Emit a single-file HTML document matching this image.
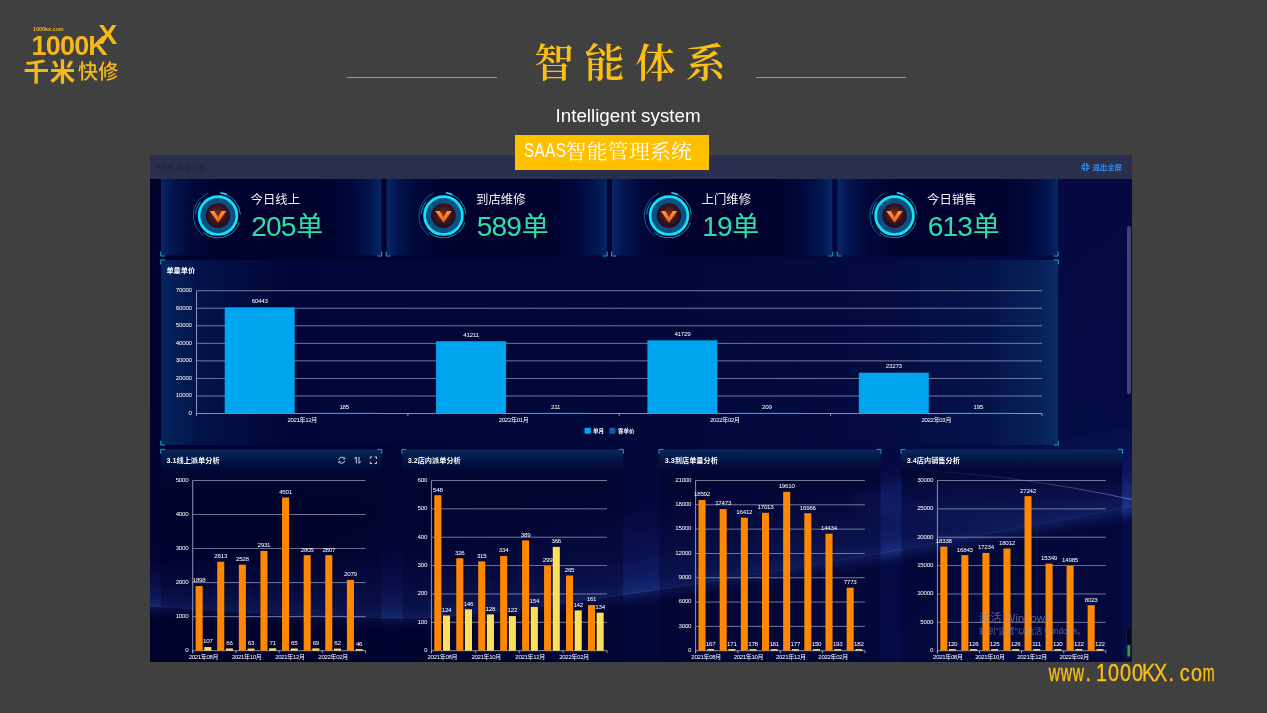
<!DOCTYPE html>
<html lang="zh-CN"><head><meta charset="utf-8"><title>智能体系</title>
<style>
html,body{margin:0;padding:0;}
body{width:1267px;height:713px;background:#404040;position:relative;overflow:hidden;font-family:"Liberation Sans","Noto Sans CJK SC",sans-serif;}
.abs{position:absolute;white-space:nowrap;line-height:1;}
.logo{color:#f5b81c;font-weight:bold;}
.title{left:534px;top:44px;font-family:"Liberation Serif","Noto Serif CJK SC",serif;font-weight:600;font-size:40px;letter-spacing:10.6px;color:#fbbf15;}
.sub{left:555.5px;top:106.5px;font-size:18.8px;color:#fff;}
.line{position:absolute;height:1.4px;background:#d88a3c;top:76.5px;}
.badge{position:absolute;left:515px;top:134.5px;width:194px;height:35px;background:#ffc000;}
.badge span{position:absolute;white-space:nowrap;line-height:1;color:#fff;}
.b1{left:9.2px;top:5.5px;font-size:20px;letter-spacing:0.6px;transform:scaleX(0.76);transform-origin:left;}
.b2{left:50.6px;top:7.1px;font-family:"Liberation Serif","Noto Serif CJK SC",serif;font-weight:400;font-size:20.8px;letter-spacing:0.3px;}
.url{left:1048.3px;top:661.6px;color:#fbbf15;font-size:23px;display:flex;-webkit-text-stroke:0.35px #fbbf15;}
.url i{display:flex;justify-content:center;width:11.86px;font-style:normal;}
.url i b{display:block;font-weight:normal;transform:scaleX(0.86);}
.url i.w b{transform:scaleX(0.68);} .url i.m b{transform:scaleX(0.62);} .url i.d{justify-content:flex-start;} .url i.d b{margin-left:1px}
</style></head><body>
<svg width="1267" height="713" viewBox="0 0 1267 713" style="position:absolute;left:0;top:0" font-family='"Liberation Sans","Noto Sans CJK SC",sans-serif'>
<defs>
<linearGradient id="cardg" x1="0" x2="1" y1="0" y2="0">
 <stop offset="0" stop-color="#062866"/><stop offset="0.05" stop-color="#031550"/><stop offset="0.14" stop-color="#01083a"/><stop offset="0.26" stop-color="#00022d"/>
 <stop offset="0.74" stop-color="#00022d"/><stop offset="0.86" stop-color="#01083a"/><stop offset="0.95" stop-color="#031550"/><stop offset="1" stop-color="#062866"/>
</linearGradient>
<linearGradient id="midg" x1="0" x2="1" y1="0" y2="0">
 <stop offset="0" stop-color="#062560"/><stop offset="0.04" stop-color="#03134a"/><stop offset="0.14" stop-color="#010638"/>
 <stop offset="0.5" stop-color="#020739"/><stop offset="0.8" stop-color="#030b40"/><stop offset="0.92" stop-color="#04134a"/><stop offset="0.98" stop-color="#072259"/><stop offset="1" stop-color="#0a2c68"/>
</linearGradient>
<linearGradient id="botg" x1="0" x2="0" y1="0" y2="1">
 <stop offset="0" stop-color="#08285c"/><stop offset="0.02" stop-color="#062050"/><stop offset="0.05" stop-color="#041646" stop-opacity="0.98"/><stop offset="0.085" stop-color="#020a39" stop-opacity="0.95"/><stop offset="0.12" stop-color="#01052f" stop-opacity="0.8"/><stop offset="0.3" stop-color="#01032b" stop-opacity="0.42"/><stop offset="1" stop-color="#01032b" stop-opacity="0.36"/>
</linearGradient>
<linearGradient id="bgg" x1="0" x2="1" y1="0" y2="1">
 <stop offset="0" stop-color="#00012b"/><stop offset="0.45" stop-color="#010433"/><stop offset="1" stop-color="#02083e"/>
</linearGradient>
<radialGradient id="icg" cx="0.5" cy="0.45" r="0.55">
 <stop offset="0" stop-color="#7a3018"/><stop offset="0.6" stop-color="#3a1420"/><stop offset="1" stop-color="#1a0c2a"/>
</radialGradient>
<linearGradient id="vg" x1="0" x2="0" y1="0" y2="1"><stop offset="0" stop-color="#ff9a30"/><stop offset="1" stop-color="#f05a18"/></linearGradient>
</defs>
<rect x="150" y="155" width="982" height="507" fill="url(#bgg)"/>
<clipPath id="dclip"><rect x="150" y="179" width="982" height="483"/></clipPath>
<filter id="blr" x="-5%" y="-20%" width="110%" height="140%"><feGaussianBlur stdDeviation="4"/></filter>
<g clip-path="url(#dclip)">
<g filter="url(#blr)">
<polygon points="136,611.0 150,612.0 164,613.0 178,613.9 192,614.9 206,615.8 220,616.8 234,617.6 248,618.5 262,619.3 276,620.0 290,620.7 304,621.4 318,621.9 332,622.5 346,622.9 360,623.3 374,623.6 388,623.8 402,623.9 416,624.0 430,623.5 444,622.4 458,621.1 472,619.7 486,618.3 500,616.7 514,615.1 528,613.4 542,611.7 556,609.9 570,608.0 584,606.1 598,604.2 612,602.2 626,600.2 640,598.2 654,596.1 668,594.0 682,591.9 696,589.7 710,587.6 724,585.3 738,583.1 752,580.8 766,578.6 780,576.2 794,573.9 808,571.6 822,569.2 836,566.8 850,564.4 864,561.9 878,559.5 892,557.0 906,554.5 920,552.0 934,549.5 948,546.9 962,544.4 976,541.8 990,539.2 1004,536.6 1018,533.9 1032,531.3 1046,528.6 1060,526.0 1074,523.3 1088,520.6 1102,517.9 1116,515.1 1130,512.4 1144,509.6 1144,423.6 1130,426.4 1116,429.1 1102,431.9 1088,434.6 1074,437.3 1060,440.0 1046,442.6 1032,445.3 1018,447.9 1004,450.6 990,453.2 976,455.8 962,458.4 948,460.9 934,463.5 920,466.0 906,468.5 892,471.0 878,473.5 864,475.9 850,478.4 836,480.8 822,483.2 808,485.6 794,487.9 780,490.2 766,492.6 752,494.8 738,497.1 724,499.3 710,501.6 696,503.7 682,505.9 668,508.0 654,510.1 640,512.2 626,514.2 612,516.2 598,518.2 584,520.1 570,522.0 556,523.9 542,526.4 528,529.4 514,532.3 500,535.2 486,538.0 472,540.8 458,543.4 444,545.9 430,548.3 416,550.1 402,551.3 388,552.4 374,553.4 360,554.4 346,555.3 332,556.1 318,556.8 304,557.5 290,558.1 276,558.7 262,559.2 248,559.7 234,560.1 220,560.5 206,560.8 192,561.1 178,561.4 164,561.7 150,562.0 136,561.0" fill="#3a5fd0" opacity="0.045"/>
<polygon points="136,611.0 150,612.0 164,613.0 178,613.9 192,614.9 206,615.8 220,616.8 234,617.6 248,618.5 262,619.3 276,620.0 290,620.7 304,621.4 318,621.9 332,622.5 346,622.9 360,623.3 374,623.6 388,623.8 402,623.9 416,624.0 430,623.5 444,622.4 458,621.1 472,619.7 486,618.3 500,616.7 514,615.1 528,613.4 542,611.7 556,609.9 570,608.0 584,606.1 598,604.2 612,602.2 626,600.2 640,598.2 654,596.1 668,594.0 682,591.9 696,589.7 710,587.6 724,585.3 738,583.1 752,580.8 766,578.6 780,576.2 794,573.9 808,571.6 822,569.2 836,566.8 850,564.4 864,561.9 878,559.5 892,557.0 906,554.5 920,552.0 934,549.5 948,546.9 962,544.4 976,541.8 990,539.2 1004,536.6 1018,533.9 1032,531.3 1046,528.6 1060,526.0 1074,523.3 1088,520.6 1102,517.9 1116,515.1 1130,512.4 1144,509.6 1144,441.6 1130,444.4 1116,447.1 1102,449.9 1088,452.6 1074,455.3 1060,458.0 1046,460.6 1032,463.3 1018,465.9 1004,468.6 990,471.2 976,473.8 962,476.4 948,478.9 934,481.5 920,484.0 906,486.5 892,489.0 878,491.5 864,493.9 850,496.4 836,498.8 822,501.2 808,503.6 794,505.9 780,508.2 766,510.6 752,512.8 738,515.1 724,517.3 710,519.6 696,521.7 682,523.9 668,526.0 654,528.1 640,530.2 626,532.2 612,534.2 598,536.2 584,538.1 570,540.0 556,541.9 542,544.2 528,546.9 514,549.6 500,552.2 486,554.7 472,557.2 458,559.5 444,561.8 430,563.8 416,565.3 402,566.3 388,567.1 374,567.8 360,568.5 346,569.1 332,569.7 318,570.1 304,570.5 290,570.9 276,571.1 262,571.4 248,571.5 234,571.7 220,571.8 206,571.8 192,571.9 178,571.9 164,571.9 150,571.9 136,570.9" fill="#3a5fd0" opacity="0.05"/>
<polygon points="136,611.0 150,612.0 164,613.0 178,613.9 192,614.9 206,615.8 220,616.8 234,617.6 248,618.5 262,619.3 276,620.0 290,620.7 304,621.4 318,621.9 332,622.5 346,622.9 360,623.3 374,623.6 388,623.8 402,623.9 416,624.0 430,623.5 444,622.4 458,621.1 472,619.7 486,618.3 500,616.7 514,615.1 528,613.4 542,611.7 556,609.9 570,608.0 584,606.1 598,604.2 612,602.2 626,600.2 640,598.2 654,596.1 668,594.0 682,591.9 696,589.7 710,587.6 724,585.3 738,583.1 752,580.8 766,578.6 780,576.2 794,573.9 808,571.6 822,569.2 836,566.8 850,564.4 864,561.9 878,559.5 892,557.0 906,554.5 920,552.0 934,549.5 948,546.9 962,544.4 976,541.8 990,539.2 1004,536.6 1018,533.9 1032,531.3 1046,528.6 1060,526.0 1074,523.3 1088,520.6 1102,517.9 1116,515.1 1130,512.4 1144,509.6 1144,457.6 1130,460.4 1116,463.1 1102,465.9 1088,468.6 1074,471.3 1060,474.0 1046,476.6 1032,479.3 1018,481.9 1004,484.6 990,487.2 976,489.8 962,492.4 948,494.9 934,497.5 920,500.0 906,502.5 892,505.0 878,507.5 864,509.9 850,512.4 836,514.8 822,517.2 808,519.6 794,521.9 780,524.2 766,526.6 752,528.8 738,531.1 724,533.3 710,535.6 696,537.7 682,539.9 668,542.0 654,544.1 640,546.2 626,548.2 612,550.2 598,552.2 584,554.1 570,556.0 556,557.9 542,560.1 528,562.5 514,564.9 500,567.3 486,569.6 472,571.8 458,573.9 444,575.9 430,577.7 416,578.9 402,579.6 388,580.2 374,580.7 360,581.1 346,581.5 332,581.7 318,582.0 304,582.1 290,582.2 276,582.2 262,582.2 248,582.1 234,582.0 220,581.8 206,581.6 192,581.4 178,581.2 164,581.0 150,580.7 136,579.7" fill="#3a5fd0" opacity="0.055"/>
<polygon points="136,611.0 150,612.0 164,613.0 178,613.9 192,614.9 206,615.8 220,616.8 234,617.6 248,618.5 262,619.3 276,620.0 290,620.7 304,621.4 318,621.9 332,622.5 346,622.9 360,623.3 374,623.6 388,623.8 402,623.9 416,624.0 430,623.5 444,622.4 458,621.1 472,619.7 486,618.3 500,616.7 514,615.1 528,613.4 542,611.7 556,609.9 570,608.0 584,606.1 598,604.2 612,602.2 626,600.2 640,598.2 654,596.1 668,594.0 682,591.9 696,589.7 710,587.6 724,585.3 738,583.1 752,580.8 766,578.6 780,576.2 794,573.9 808,571.6 822,569.2 836,566.8 850,564.4 864,561.9 878,559.5 892,557.0 906,554.5 920,552.0 934,549.5 948,546.9 962,544.4 976,541.8 990,539.2 1004,536.6 1018,533.9 1032,531.3 1046,528.6 1060,526.0 1074,523.3 1088,520.6 1102,517.9 1116,515.1 1130,512.4 1144,509.6 1144,471.6 1130,474.4 1116,477.1 1102,479.9 1088,482.6 1074,485.3 1060,488.0 1046,490.6 1032,493.3 1018,495.9 1004,498.6 990,501.2 976,503.8 962,506.4 948,508.9 934,511.5 920,514.0 906,516.5 892,519.0 878,521.5 864,523.9 850,526.4 836,528.8 822,531.2 808,533.6 794,535.9 780,538.2 766,540.6 752,542.8 738,545.1 724,547.3 710,549.6 696,551.7 682,553.9 668,556.0 654,558.1 640,560.2 626,562.2 612,564.2 598,566.2 584,568.1 570,570.0 556,571.9 542,573.9 528,576.2 514,578.4 500,580.5 486,582.6 472,584.6 458,586.4 444,588.2 430,589.8 416,590.8 402,591.3 388,591.6 374,591.9 360,592.1 346,592.2 332,592.3 318,592.3 304,592.2 290,592.1 276,591.9 262,591.6 248,591.3 234,591.0 220,590.6 206,590.2 192,589.8 178,589.3 164,588.9 150,588.4 136,587.4" fill="#3a5fd0" opacity="0.065"/>
<polygon points="136,611.0 150,612.0 164,613.0 178,613.9 192,614.9 206,615.8 220,616.8 234,617.6 248,618.5 262,619.3 276,620.0 290,620.7 304,621.4 318,621.9 332,622.5 346,622.9 360,623.3 374,623.6 388,623.8 402,623.9 416,624.0 430,623.5 444,622.4 458,621.1 472,619.7 486,618.3 500,616.7 514,615.1 528,613.4 542,611.7 556,609.9 570,608.0 584,606.1 598,604.2 612,602.2 626,600.2 640,598.2 654,596.1 668,594.0 682,591.9 696,589.7 710,587.6 724,585.3 738,583.1 752,580.8 766,578.6 780,576.2 794,573.9 808,571.6 822,569.2 836,566.8 850,564.4 864,561.9 878,559.5 892,557.0 906,554.5 920,552.0 934,549.5 948,546.9 962,544.4 976,541.8 990,539.2 1004,536.6 1018,533.9 1032,531.3 1046,528.6 1060,526.0 1074,523.3 1088,520.6 1102,517.9 1116,515.1 1130,512.4 1144,509.6 1144,483.6 1130,486.4 1116,489.1 1102,491.9 1088,494.6 1074,497.3 1060,500.0 1046,502.6 1032,505.3 1018,507.9 1004,510.6 990,513.2 976,515.8 962,518.4 948,520.9 934,523.5 920,526.0 906,528.5 892,531.0 878,533.5 864,535.9 850,538.4 836,540.8 822,543.2 808,545.6 794,547.9 780,550.2 766,552.6 752,554.8 738,557.1 724,559.3 710,561.6 696,563.7 682,565.9 668,568.0 654,570.1 640,572.2 626,574.2 612,576.2 598,578.2 584,580.1 570,582.0 556,583.9 542,585.8 528,587.9 514,589.9 500,591.8 486,593.7 472,595.5 458,597.2 444,598.8 430,600.2 416,601.0 402,601.3 388,601.4 374,601.5 360,601.6 346,601.5 332,601.4 318,601.2 304,600.9 290,600.6 276,600.2 262,599.8 248,599.3 234,598.7 220,598.2 206,597.6 192,597.0 178,596.3 164,595.7 150,595.0 136,594.0" fill="#3a5fd0" opacity="0.08"/>
<polygon points="136,611.0 150,612.0 164,613.0 178,613.9 192,614.9 206,615.8 220,616.8 234,617.6 248,618.5 262,619.3 276,620.0 290,620.7 304,621.4 318,621.9 332,622.5 346,622.9 360,623.3 374,623.6 388,623.8 402,623.9 416,624.0 430,623.5 444,622.4 458,621.1 472,619.7 486,618.3 500,616.7 514,615.1 528,613.4 542,611.7 556,609.9 570,608.0 584,606.1 598,604.2 612,602.2 626,600.2 640,598.2 654,596.1 668,594.0 682,591.9 696,589.7 710,587.6 724,585.3 738,583.1 752,580.8 766,578.6 780,576.2 794,573.9 808,571.6 822,569.2 836,566.8 850,564.4 864,561.9 878,559.5 892,557.0 906,554.5 920,552.0 934,549.5 948,546.9 962,544.4 976,541.8 990,539.2 1004,536.6 1018,533.9 1032,531.3 1046,528.6 1060,526.0 1074,523.3 1088,520.6 1102,517.9 1116,515.1 1130,512.4 1144,509.6 1144,493.6 1130,496.4 1116,499.1 1102,501.9 1088,504.6 1074,507.3 1060,510.0 1046,512.6 1032,515.3 1018,517.9 1004,520.6 990,523.2 976,525.8 962,528.4 948,530.9 934,533.5 920,536.0 906,538.5 892,541.0 878,543.5 864,545.9 850,548.4 836,550.8 822,553.2 808,555.6 794,557.9 780,560.2 766,562.6 752,564.8 738,567.1 724,569.3 710,571.6 696,573.7 682,575.9 668,578.0 654,580.1 640,582.2 626,584.2 612,586.2 598,588.2 584,590.1 570,592.0 556,593.9 542,595.7 528,597.6 514,599.5 500,601.3 486,603.0 472,604.6 458,606.2 444,607.6 430,608.8 416,609.5 402,609.6 388,609.6 374,609.6 360,609.4 346,609.2 332,608.9 318,608.6 304,608.1 290,607.7 276,607.1 262,606.5 248,605.9 234,605.2 220,604.5 206,603.7 192,602.9 178,602.1 164,601.3 150,600.5 136,599.5" fill="#3a5fd0" opacity="0.1"/>
<polygon points="136,611.0 150,612.0 164,613.0 178,613.9 192,614.9 206,615.8 220,616.8 234,617.6 248,618.5 262,619.3 276,620.0 290,620.7 304,621.4 318,621.9 332,622.5 346,622.9 360,623.3 374,623.6 388,623.8 402,623.9 416,624.0 430,623.5 444,622.4 458,621.1 472,619.7 486,618.3 500,616.7 514,615.1 528,613.4 542,611.7 556,609.9 570,608.0 584,606.1 598,604.2 612,602.2 626,600.2 640,598.2 654,596.1 668,594.0 682,591.9 696,589.7 710,587.6 724,585.3 738,583.1 752,580.8 766,578.6 780,576.2 794,573.9 808,571.6 822,569.2 836,566.8 850,564.4 864,561.9 878,559.5 892,557.0 906,554.5 920,552.0 934,549.5 948,546.9 962,544.4 976,541.8 990,539.2 1004,536.6 1018,533.9 1032,531.3 1046,528.6 1060,526.0 1074,523.3 1088,520.6 1102,517.9 1116,515.1 1130,512.4 1144,509.6 1144,498.6 1130,501.4 1116,504.1 1102,506.9 1088,509.6 1074,512.3 1060,515.0 1046,517.6 1032,520.3 1018,522.9 1004,525.6 990,528.2 976,530.8 962,533.4 948,535.9 934,538.5 920,541.0 906,543.5 892,546.0 878,548.5 864,550.9 850,553.4 836,555.8 822,558.2 808,560.6 794,562.9 780,565.2 766,567.6 752,569.8 738,572.1 724,574.3 710,576.6 696,578.7 682,580.9 668,583.0 654,585.1 640,587.2 626,589.2 612,591.2 598,593.2 584,595.1 570,597.0 556,598.9 542,600.7 528,602.5 514,604.3 500,606.0 486,607.6 472,609.2 458,610.6 444,612.0 430,613.1 416,613.8 402,613.8 388,613.7 374,613.6 360,613.3 346,613.1 332,612.7 318,612.3 304,611.8 290,611.2 276,610.6 262,609.9 248,609.2 234,608.4 220,607.6 206,606.8 192,605.9 178,605.0 164,604.1 150,603.2 136,602.3" fill="#3a5fd0" opacity="0.1"/>
<ellipse cx="1010" cy="500" rx="160" ry="26" fill="#2a50c0" opacity="0.16"/>
</g>
<defs><linearGradient id="dkf" gradientUnits="userSpaceOnUse" x1="150" x2="1132" y1="0" y2="0"><stop offset="0" stop-color="#00012a" stop-opacity="0.55"/><stop offset="0.42" stop-color="#00012a" stop-opacity="0.5"/><stop offset="0.62" stop-color="#00012a" stop-opacity="0.12"/><stop offset="0.75" stop-color="#00012a" stop-opacity="0"/></linearGradient><linearGradient id="rgl" gradientUnits="userSpaceOnUse" x1="150" x2="1132" y1="0" y2="0"><stop offset="0.2" stop-color="#2444c8" stop-opacity="0"/><stop offset="0.5" stop-color="#2444c8" stop-opacity="0.04"/><stop offset="0.8" stop-color="#2444c8" stop-opacity="0.075"/><stop offset="1" stop-color="#2444c8" stop-opacity="0.085"/></linearGradient></defs>
<polygon points="136,605.0 150,606.0 164,607.0 178,607.9 192,608.9 206,609.8 220,610.8 234,611.6 248,612.5 262,613.3 276,614.0 290,614.7 304,615.4 318,615.9 332,616.5 346,616.9 360,617.3 374,617.6 388,617.8 402,617.9 416,618.0 430,617.5 444,616.4 458,615.1 472,613.7 486,612.3 500,610.7 514,609.1 528,607.4 542,605.7 556,603.9 570,602.0 584,600.1 598,598.2 612,596.2 626,594.2 640,592.2 654,590.1 668,588.0 682,585.9 696,583.7 710,581.6 724,579.3 738,577.1 752,574.8 766,572.6 780,570.2 794,567.9 808,565.6 822,563.2 836,560.8 850,558.4 864,555.9 878,553.5 892,551.0 906,548.5 920,546.0 934,543.5 948,540.9 962,538.4 976,535.8 990,533.2 1004,530.6 1018,527.9 1032,525.3 1046,522.6 1060,520.0 1074,517.3 1088,514.6 1102,511.9 1116,509.1 1130,506.4 1144,503.6 1146,670 136,670" fill="url(#dkf)"/>
<rect x="150" y="179" width="982" height="483" fill="url(#rgl)"/>
<polyline points="136,605.0 150,606.0 164,607.0 178,607.9 192,608.9 206,609.8 220,610.8 234,611.6 248,612.5 262,613.3 276,614.0 290,614.7 304,615.4 318,615.9 332,616.5 346,616.9 360,617.3 374,617.6 388,617.8 402,617.9 416,618.0 430,617.5 444,616.4 458,615.1 472,613.7 486,612.3 500,610.7 514,609.1 528,607.4 542,605.7 556,603.9 570,602.0 584,600.1 598,598.2 612,596.2 626,594.2 640,592.2 654,590.1 668,588.0 682,585.9 696,583.7 710,581.6 724,579.3 738,577.1 752,574.8 766,572.6 780,570.2 794,567.9 808,565.6 822,563.2 836,560.8 850,558.4 864,555.9 878,553.5 892,551.0 906,548.5 920,546.0 934,543.5 948,540.9 962,538.4 976,535.8 990,533.2 1004,530.6 1018,527.9 1032,525.3 1046,522.6 1060,520.0 1074,517.3 1088,514.6 1102,511.9 1116,509.1 1130,506.4 1144,503.6" fill="none" stroke="#6f8ae0" stroke-width="0.9" opacity="0.22"/>
</g>
<rect x="150" y="155" width="982" height="24" fill="#2a2f4e"/>
<text x="156" y="170.2" font-size="7.3" fill="#23273f" font-weight="bold">4号屏-单量分析</text>
<g stroke="#2f8ff0" stroke-width="1.5" fill="none" transform="translate(1085.4 167)"><path d="M-1.3 -4 V-1.3 H-4 M1.3 -4 V-1.3 H4 M-1.3 4 V1.3 H-4 M1.3 4 V1.3 H4"/></g>
<text x="1092.4" y="169.7" font-size="7.4" fill="#2f8ff0" font-weight="bold">退出全屏</text>
<rect x="1127" y="226" width="4" height="168" rx="2" fill="#4a5078" opacity="0.85"/>
<rect x="1126.5" y="626" width="4.6" height="31.5" rx="1.2" fill="#05081c" stroke="#2a2f45" stroke-width="0.5"/><rect x="1127.4" y="645" width="2.8" height="11.5" fill="#2f9a50"/>
<rect x="161.0" y="179" width="220.4" height="76.5" fill="url(#cardg)"/>
<path d="M160.7 251.6 V256 H165.1 M377.3 256 H381.7 V251.6" stroke="#19c0d8" stroke-width="1" fill="none" opacity="0.85"/>
<g transform="translate(218.0 215.6)">
<circle r="24.6" fill="none" stroke="#0b7fa0" stroke-width="0.7" stroke-dasharray="52 101" transform="rotate(125)"/>
<circle r="22.4" fill="none" stroke="#12a8c8" stroke-width="0.8" stroke-dasharray="30 8 44 20 14 23"  transform="rotate(-80)"/>
<circle r="22.9" fill="none" stroke="#25d8f0" stroke-width="1.6" stroke-dasharray="6 136" transform="rotate(-82)"/>
<circle r="18.9" fill="#0d4f7e" stroke="#10e4f8" stroke-width="2.7"/>
<circle r="12.3" fill="url(#icg)"/>
<path d="M-8.2 -4.6 L-3.6 -4.6 L0 1.6 L3.6 -4.6 L8.2 -4.6 L0 7.2 Z" fill="url(#vg)"/>
</g>
<text x="250.6" y="203.9" font-size="12.4" fill="#f2f2f6">今日线上</text>
<text x="251.2" y="235.8" font-size="27" fill="#2ee0a6"><tspan font-size="28.2" letter-spacing="-0.9">205</tspan><tspan dx="0.6">单</tspan></text>
<rect x="386.5" y="179" width="220.4" height="76.5" fill="url(#cardg)"/>
<path d="M386.2 251.6 V256 H390.59999999999997 M602.8 256 H607.1999999999999 V251.6" stroke="#19c0d8" stroke-width="1" fill="none" opacity="0.85"/>
<g transform="translate(443.5 215.6)">
<circle r="24.6" fill="none" stroke="#0b7fa0" stroke-width="0.7" stroke-dasharray="52 101" transform="rotate(125)"/>
<circle r="22.4" fill="none" stroke="#12a8c8" stroke-width="0.8" stroke-dasharray="30 8 44 20 14 23"  transform="rotate(-80)"/>
<circle r="22.9" fill="none" stroke="#25d8f0" stroke-width="1.6" stroke-dasharray="6 136" transform="rotate(-82)"/>
<circle r="18.9" fill="#0d4f7e" stroke="#10e4f8" stroke-width="2.7"/>
<circle r="12.3" fill="url(#icg)"/>
<path d="M-8.2 -4.6 L-3.6 -4.6 L0 1.6 L3.6 -4.6 L8.2 -4.6 L0 7.2 Z" fill="url(#vg)"/>
</g>
<text x="476.1" y="203.9" font-size="12.4" fill="#f2f2f6">到店维修</text>
<text x="476.7" y="235.8" font-size="27" fill="#2ee0a6"><tspan font-size="28.2" letter-spacing="-0.9">589</tspan><tspan dx="0.6">单</tspan></text>
<rect x="612.0" y="179" width="220.4" height="76.5" fill="url(#cardg)"/>
<path d="M611.7 251.6 V256 H616.1 M828.3 256 H832.6999999999999 V251.6" stroke="#19c0d8" stroke-width="1" fill="none" opacity="0.85"/>
<g transform="translate(669.0 215.6)">
<circle r="24.6" fill="none" stroke="#0b7fa0" stroke-width="0.7" stroke-dasharray="52 101" transform="rotate(125)"/>
<circle r="22.4" fill="none" stroke="#12a8c8" stroke-width="0.8" stroke-dasharray="30 8 44 20 14 23"  transform="rotate(-80)"/>
<circle r="22.9" fill="none" stroke="#25d8f0" stroke-width="1.6" stroke-dasharray="6 136" transform="rotate(-82)"/>
<circle r="18.9" fill="#0d4f7e" stroke="#10e4f8" stroke-width="2.7"/>
<circle r="12.3" fill="url(#icg)"/>
<path d="M-8.2 -4.6 L-3.6 -4.6 L0 1.6 L3.6 -4.6 L8.2 -4.6 L0 7.2 Z" fill="url(#vg)"/>
</g>
<text x="701.6" y="203.9" font-size="12.4" fill="#f2f2f6">上门维修</text>
<text x="702.2" y="235.8" font-size="27" fill="#2ee0a6"><tspan font-size="28.2" letter-spacing="-0.9">19</tspan><tspan dx="0.6">单</tspan></text>
<rect x="837.5" y="179" width="220.4" height="76.5" fill="url(#cardg)"/>
<path d="M837.2 251.6 V256 H841.6 M1053.8 256 H1058.2 V251.6" stroke="#19c0d8" stroke-width="1" fill="none" opacity="0.85"/>
<g transform="translate(894.5 215.6)">
<circle r="24.6" fill="none" stroke="#0b7fa0" stroke-width="0.7" stroke-dasharray="52 101" transform="rotate(125)"/>
<circle r="22.4" fill="none" stroke="#12a8c8" stroke-width="0.8" stroke-dasharray="30 8 44 20 14 23"  transform="rotate(-80)"/>
<circle r="22.9" fill="none" stroke="#25d8f0" stroke-width="1.6" stroke-dasharray="6 136" transform="rotate(-82)"/>
<circle r="18.9" fill="#0d4f7e" stroke="#10e4f8" stroke-width="2.7"/>
<circle r="12.3" fill="url(#icg)"/>
<path d="M-8.2 -4.6 L-3.6 -4.6 L0 1.6 L3.6 -4.6 L8.2 -4.6 L0 7.2 Z" fill="url(#vg)"/>
</g>
<text x="927.1" y="203.9" font-size="12.4" fill="#f2f2f6">今日销售</text>
<text x="927.7" y="235.8" font-size="27" fill="#2ee0a6"><tspan font-size="28.2" letter-spacing="-0.9">613</tspan><tspan dx="0.6">单</tspan></text>
<rect x="161" y="260" width="897" height="185" fill="url(#midg)"/>
<path d="M160.7 264.29999999999995 V259.9 H165.1 M1053.8999999999999 259.9 H1058.3 V264.29999999999995 M160.7 440.70000000000005 V445.1 H165.1 M1053.8999999999999 445.1 H1058.3 V440.70000000000005" stroke="#19c0d8" stroke-width="1" fill="none" opacity="0.85"/>
<text x="166.4" y="273.4" font-size="7.2" font-weight="bold" fill="#fff">单量单价</text>
<line x1="196.5" x2="1042" y1="413.50" y2="413.50" stroke="#b4b8d2" stroke-width="0.8" opacity="0.95"/>
<text x="191.8" y="415.00" font-size="6.2" letter-spacing="-0.25" fill="#fff" text-anchor="end">0</text>
<line x1="196.5" x2="1042" y1="395.96" y2="395.96" stroke="#b4b8d2" stroke-width="0.8" opacity="0.8"/>
<text x="191.8" y="397.46" font-size="6.2" letter-spacing="-0.25" fill="#fff" text-anchor="end">10000</text>
<line x1="196.5" x2="1042" y1="378.41" y2="378.41" stroke="#b4b8d2" stroke-width="0.8" opacity="0.8"/>
<text x="191.8" y="379.91" font-size="6.2" letter-spacing="-0.25" fill="#fff" text-anchor="end">20000</text>
<line x1="196.5" x2="1042" y1="360.87" y2="360.87" stroke="#b4b8d2" stroke-width="0.8" opacity="0.8"/>
<text x="191.8" y="362.37" font-size="6.2" letter-spacing="-0.25" fill="#fff" text-anchor="end">30000</text>
<line x1="196.5" x2="1042" y1="343.33" y2="343.33" stroke="#b4b8d2" stroke-width="0.8" opacity="0.8"/>
<text x="191.8" y="344.83" font-size="6.2" letter-spacing="-0.25" fill="#fff" text-anchor="end">40000</text>
<line x1="196.5" x2="1042" y1="325.79" y2="325.79" stroke="#b4b8d2" stroke-width="0.8" opacity="0.8"/>
<text x="191.8" y="327.29" font-size="6.2" letter-spacing="-0.25" fill="#fff" text-anchor="end">50000</text>
<line x1="196.5" x2="1042" y1="308.24" y2="308.24" stroke="#b4b8d2" stroke-width="0.8" opacity="0.8"/>
<text x="191.8" y="309.74" font-size="6.2" letter-spacing="-0.25" fill="#fff" text-anchor="end">60000</text>
<line x1="196.5" x2="1042" y1="290.70" y2="290.70" stroke="#b4b8d2" stroke-width="0.8" opacity="0.8"/>
<text x="191.8" y="292.20" font-size="6.2" letter-spacing="-0.25" fill="#fff" text-anchor="end">70000</text>
<line x1="196.5" x2="196.5" y1="290.7" y2="416.0" stroke="#b4b8d2" stroke-width="0.8"/>
<rect x="224.7" y="307.47" width="70" height="106.03" fill="#00a5f0"/>
<text x="259.7" y="303.27" font-size="6.2" letter-spacing="-0.25" fill="#fff" text-anchor="middle">60443</text>
<rect x="309.2" y="412.60" width="70" height="0.6" fill="#0a58b0" opacity="0.7"/>
<text x="344.2" y="408.80" font-size="6.2" letter-spacing="-0.25" fill="#fff" text-anchor="middle">185</text>
<text x="302.2" y="421.90" font-size="6" letter-spacing="-0.3" fill="#fff" text-anchor="middle">2021年12月</text>
<line x1="407.9" x2="407.9" y1="413.5" y2="416.0" stroke="#b4b8d2" stroke-width="0.8"/>
<rect x="436.1" y="341.20" width="70" height="72.30" fill="#00a5f0"/>
<text x="471.1" y="337.00" font-size="6.2" letter-spacing="-0.25" fill="#fff" text-anchor="middle">41211</text>
<rect x="520.6" y="412.60" width="70" height="0.6" fill="#0a58b0" opacity="0.7"/>
<text x="555.6" y="408.80" font-size="6.2" letter-spacing="-0.25" fill="#fff" text-anchor="middle">211</text>
<text x="513.6" y="421.90" font-size="6" letter-spacing="-0.3" fill="#fff" text-anchor="middle">2022年01月</text>
<line x1="619.2" x2="619.2" y1="413.5" y2="416.0" stroke="#b4b8d2" stroke-width="0.8"/>
<rect x="647.4" y="340.30" width="70" height="73.20" fill="#00a5f0"/>
<text x="682.4" y="336.10" font-size="6.2" letter-spacing="-0.25" fill="#fff" text-anchor="middle">41729</text>
<rect x="731.9" y="412.60" width="70" height="0.6" fill="#0a58b0" opacity="0.7"/>
<text x="766.9" y="408.80" font-size="6.2" letter-spacing="-0.25" fill="#fff" text-anchor="middle">209</text>
<text x="724.9" y="421.90" font-size="6" letter-spacing="-0.3" fill="#fff" text-anchor="middle">2022年02月</text>
<line x1="830.6" x2="830.6" y1="413.5" y2="416.0" stroke="#b4b8d2" stroke-width="0.8"/>
<rect x="858.8" y="372.67" width="70" height="40.83" fill="#00a5f0"/>
<text x="893.8" y="368.47" font-size="6.2" letter-spacing="-0.25" fill="#fff" text-anchor="middle">23273</text>
<rect x="943.3" y="412.60" width="70" height="0.6" fill="#0a58b0" opacity="0.7"/>
<text x="978.3" y="408.80" font-size="6.2" letter-spacing="-0.25" fill="#fff" text-anchor="middle">195</text>
<text x="936.3" y="421.90" font-size="6" letter-spacing="-0.3" fill="#fff" text-anchor="middle">2022年03月</text>
<line x1="1042.0" x2="1042.0" y1="413.5" y2="416.0" stroke="#b4b8d2" stroke-width="0.8"/>
<rect x="584.5" y="427.7" width="6.4" height="6" rx="1.1" fill="#00a5f0"/><text x="593.1" y="432.7" font-size="5.5" fill="#fff" font-weight="bold">单月</text>
<rect x="609.2" y="427.7" width="6.4" height="6" rx="1.1" fill="#0b5ba8"/><text x="618" y="432.7" font-size="5.5" fill="#fff" font-weight="bold">客单价</text>
<rect x="161" y="449.5" width="220.5" height="212.5" fill="url(#botg)"/>
<path d="M160.7 453.79999999999995 V449.4 H165.1 M377.40000000000003 449.4 H381.8 V453.79999999999995" stroke="#19c0d8" stroke-width="1" fill="none" opacity="0.85"/>
<text x="166.5" y="463.3" font-size="7.2" font-weight="bold" fill="#fff">3.1线上派单分析</text>
<g stroke="#e8e8f0" stroke-width="0.9" fill="none"><path d="M338.9 459.6 A3 3 0 0 1 344.4 458.6 M344.7 460.8 A3 3 0 0 1 339.2 461.8"/><path d="M344.9 457.2 v1.8 h-1.8 M338.7 463.2 v-1.8 h1.8" stroke-width="0.7"/><path d="M356.3 457 v6.4 M356.3 457 l-1.8 2 M359 463.4 v-6.4 M359 463.4 l1.8 -2"/><path d="M370.2 458.8 v-1.9 h1.9 M374.6 456.9 h1.9 v1.9 M376.5 461.6 v1.9 h-1.9 M372.1 463.5 h-1.9 v-1.9"/></g>
<line x1="192.7" x2="365.6" y1="650.70" y2="650.70" stroke="#b4b8d2" stroke-width="0.8" opacity="0.95"/>
<text x="188.4" y="652.00" font-size="6.2" letter-spacing="-0.25" fill="#fff" text-anchor="end">0</text>
<line x1="192.7" x2="365.6" y1="616.66" y2="616.66" stroke="#b4b8d2" stroke-width="0.8" opacity="0.8"/>
<text x="188.4" y="617.96" font-size="6.2" letter-spacing="-0.25" fill="#fff" text-anchor="end">1000</text>
<line x1="192.7" x2="365.6" y1="582.62" y2="582.62" stroke="#b4b8d2" stroke-width="0.8" opacity="0.8"/>
<text x="188.4" y="583.92" font-size="6.2" letter-spacing="-0.25" fill="#fff" text-anchor="end">2000</text>
<line x1="192.7" x2="365.6" y1="548.58" y2="548.58" stroke="#b4b8d2" stroke-width="0.8" opacity="0.8"/>
<text x="188.4" y="549.88" font-size="6.2" letter-spacing="-0.25" fill="#fff" text-anchor="end">3000</text>
<line x1="192.7" x2="365.6" y1="514.54" y2="514.54" stroke="#b4b8d2" stroke-width="0.8" opacity="0.8"/>
<text x="188.4" y="515.84" font-size="6.2" letter-spacing="-0.25" fill="#fff" text-anchor="end">4000</text>
<line x1="192.7" x2="365.6" y1="480.50" y2="480.50" stroke="#b4b8d2" stroke-width="0.8" opacity="0.8"/>
<text x="188.4" y="481.80" font-size="6.2" letter-spacing="-0.25" fill="#fff" text-anchor="end">5000</text>
<line x1="192.7" x2="192.7" y1="480.5" y2="653.2" stroke="#b4b8d2" stroke-width="0.8"/>
<rect x="195.60" y="586.09" width="7.05" height="64.61" fill="#ff8800"/>
<rect x="204.30" y="647.06" width="7.05" height="3.64" fill="#fde05a"/>
<text x="199.10" y="582.49" font-size="6.2" letter-spacing="-0.25" fill="#fff" text-anchor="middle">1898</text>
<text x="207.80" y="643.46" font-size="6.2" letter-spacing="-0.25" fill="#fff" text-anchor="middle">107</text>
<text x="203.51" y="659.10" font-size="6" letter-spacing="-0.3" fill="#fff" text-anchor="middle">2021年08月</text>
<line x1="192.70" x2="192.70" y1="650.7" y2="653.2" stroke="#b4b8d2" stroke-width="0.8"/>
<rect x="217.21" y="561.75" width="7.05" height="88.95" fill="#ff8800"/>
<rect x="225.91" y="648.45" width="7.05" height="2.25" fill="#fde05a"/>
<text x="220.71" y="558.15" font-size="6.2" letter-spacing="-0.25" fill="#fff" text-anchor="middle">2613</text>
<text x="229.41" y="644.85" font-size="6.2" letter-spacing="-0.25" fill="#fff" text-anchor="middle">66</text>
<rect x="238.83" y="564.65" width="7.05" height="86.05" fill="#ff8800"/>
<rect x="247.53" y="648.56" width="7.05" height="2.14" fill="#fde05a"/>
<text x="242.33" y="561.05" font-size="6.2" letter-spacing="-0.25" fill="#fff" text-anchor="middle">2528</text>
<text x="251.03" y="644.96" font-size="6.2" letter-spacing="-0.25" fill="#fff" text-anchor="middle">63</text>
<text x="246.73" y="659.10" font-size="6" letter-spacing="-0.3" fill="#fff" text-anchor="middle">2021年10月</text>
<line x1="235.93" x2="235.93" y1="650.7" y2="653.2" stroke="#b4b8d2" stroke-width="0.8"/>
<rect x="260.44" y="550.93" width="7.05" height="99.77" fill="#ff8800"/>
<rect x="269.14" y="648.28" width="7.05" height="2.42" fill="#fde05a"/>
<text x="263.94" y="547.33" font-size="6.2" letter-spacing="-0.25" fill="#fff" text-anchor="middle">2931</text>
<text x="272.64" y="644.68" font-size="6.2" letter-spacing="-0.25" fill="#fff" text-anchor="middle">71</text>
<rect x="282.05" y="497.49" width="7.05" height="153.21" fill="#ff8800"/>
<rect x="290.75" y="648.49" width="7.05" height="2.21" fill="#fde05a"/>
<text x="285.55" y="493.89" font-size="6.2" letter-spacing="-0.25" fill="#fff" text-anchor="middle">4501</text>
<text x="294.25" y="644.89" font-size="6.2" letter-spacing="-0.25" fill="#fff" text-anchor="middle">65</text>
<text x="289.96" y="659.10" font-size="6" letter-spacing="-0.3" fill="#fff" text-anchor="middle">2021年12月</text>
<line x1="279.15" x2="279.15" y1="650.7" y2="653.2" stroke="#b4b8d2" stroke-width="0.8"/>
<rect x="303.66" y="555.22" width="7.05" height="95.48" fill="#ff8800"/>
<rect x="312.36" y="648.35" width="7.05" height="2.35" fill="#fde05a"/>
<text x="307.16" y="551.62" font-size="6.2" letter-spacing="-0.25" fill="#fff" text-anchor="middle">2805</text>
<text x="315.86" y="644.75" font-size="6.2" letter-spacing="-0.25" fill="#fff" text-anchor="middle">69</text>
<rect x="325.27" y="555.15" width="7.05" height="95.55" fill="#ff8800"/>
<rect x="333.97" y="648.59" width="7.05" height="2.11" fill="#fde05a"/>
<text x="328.77" y="551.55" font-size="6.2" letter-spacing="-0.25" fill="#fff" text-anchor="middle">2807</text>
<text x="337.47" y="644.99" font-size="6.2" letter-spacing="-0.25" fill="#fff" text-anchor="middle">62</text>
<text x="333.18" y="659.10" font-size="6" letter-spacing="-0.3" fill="#fff" text-anchor="middle">2022年02月</text>
<line x1="322.38" x2="322.38" y1="650.7" y2="653.2" stroke="#b4b8d2" stroke-width="0.8"/>
<rect x="346.89" y="579.93" width="7.05" height="70.77" fill="#ff8800"/>
<rect x="355.59" y="649.10" width="7.05" height="1.60" fill="#fde05a"/>
<text x="350.39" y="576.33" font-size="6.2" letter-spacing="-0.25" fill="#fff" text-anchor="middle">2079</text>
<text x="359.09" y="645.50" font-size="6.2" letter-spacing="-0.25" fill="#fff" text-anchor="middle">46</text>
<line x1="365.6" x2="365.6" y1="650.7" y2="653.2" stroke="#b4b8d2" stroke-width="0.8"/>
<rect x="402.2" y="449.5" width="220.8" height="212.5" fill="url(#botg)"/>
<path d="M401.9 453.79999999999995 V449.4 H406.29999999999995 M618.9 449.4 H623.3 V453.79999999999995" stroke="#19c0d8" stroke-width="1" fill="none" opacity="0.85"/>
<text x="407.7" y="463.3" font-size="7.2" font-weight="bold" fill="#fff">3.2店内派单分析</text>
<line x1="431.4" x2="607" y1="650.70" y2="650.70" stroke="#b4b8d2" stroke-width="0.8" opacity="0.95"/>
<text x="427.1" y="652.00" font-size="6.2" letter-spacing="-0.25" fill="#fff" text-anchor="end">0</text>
<line x1="431.4" x2="607" y1="622.33" y2="622.33" stroke="#b4b8d2" stroke-width="0.8" opacity="0.8"/>
<text x="427.1" y="623.63" font-size="6.2" letter-spacing="-0.25" fill="#fff" text-anchor="end">100</text>
<line x1="431.4" x2="607" y1="593.97" y2="593.97" stroke="#b4b8d2" stroke-width="0.8" opacity="0.8"/>
<text x="427.1" y="595.27" font-size="6.2" letter-spacing="-0.25" fill="#fff" text-anchor="end">200</text>
<line x1="431.4" x2="607" y1="565.60" y2="565.60" stroke="#b4b8d2" stroke-width="0.8" opacity="0.8"/>
<text x="427.1" y="566.90" font-size="6.2" letter-spacing="-0.25" fill="#fff" text-anchor="end">300</text>
<line x1="431.4" x2="607" y1="537.23" y2="537.23" stroke="#b4b8d2" stroke-width="0.8" opacity="0.8"/>
<text x="427.1" y="538.53" font-size="6.2" letter-spacing="-0.25" fill="#fff" text-anchor="end">400</text>
<line x1="431.4" x2="607" y1="508.87" y2="508.87" stroke="#b4b8d2" stroke-width="0.8" opacity="0.8"/>
<text x="427.1" y="510.17" font-size="6.2" letter-spacing="-0.25" fill="#fff" text-anchor="end">500</text>
<line x1="431.4" x2="607" y1="480.50" y2="480.50" stroke="#b4b8d2" stroke-width="0.8" opacity="0.8"/>
<text x="427.1" y="481.80" font-size="6.2" letter-spacing="-0.25" fill="#fff" text-anchor="end">600</text>
<line x1="431.4" x2="431.4" y1="480.5" y2="653.2" stroke="#b4b8d2" stroke-width="0.8"/>
<rect x="434.30" y="495.25" width="7.05" height="155.45" fill="#ff8800"/>
<rect x="443.00" y="615.53" width="7.05" height="35.17" fill="#fde05a"/>
<text x="437.80" y="491.65" font-size="6.2" letter-spacing="-0.25" fill="#fff" text-anchor="middle">548</text>
<text x="446.50" y="611.93" font-size="6.2" letter-spacing="-0.25" fill="#fff" text-anchor="middle">124</text>
<text x="442.38" y="659.10" font-size="6" letter-spacing="-0.3" fill="#fff" text-anchor="middle">2021年08月</text>
<line x1="431.40" x2="431.40" y1="650.7" y2="653.2" stroke="#b4b8d2" stroke-width="0.8"/>
<rect x="456.25" y="558.22" width="7.05" height="92.48" fill="#ff8800"/>
<rect x="464.95" y="609.28" width="7.05" height="41.42" fill="#fde05a"/>
<text x="459.75" y="554.62" font-size="6.2" letter-spacing="-0.25" fill="#fff" text-anchor="middle">326</text>
<text x="468.45" y="605.68" font-size="6.2" letter-spacing="-0.25" fill="#fff" text-anchor="middle">146</text>
<rect x="478.20" y="561.35" width="7.05" height="89.36" fill="#ff8800"/>
<rect x="486.90" y="614.39" width="7.05" height="36.31" fill="#fde05a"/>
<text x="481.70" y="557.75" font-size="6.2" letter-spacing="-0.25" fill="#fff" text-anchor="middle">315</text>
<text x="490.40" y="610.79" font-size="6.2" letter-spacing="-0.25" fill="#fff" text-anchor="middle">128</text>
<text x="486.27" y="659.10" font-size="6" letter-spacing="-0.3" fill="#fff" text-anchor="middle">2021年10月</text>
<line x1="475.30" x2="475.30" y1="650.7" y2="653.2" stroke="#b4b8d2" stroke-width="0.8"/>
<rect x="500.15" y="555.96" width="7.05" height="94.74" fill="#ff8800"/>
<rect x="508.85" y="616.09" width="7.05" height="34.61" fill="#fde05a"/>
<text x="503.65" y="552.36" font-size="6.2" letter-spacing="-0.25" fill="#fff" text-anchor="middle">334</text>
<text x="512.35" y="612.49" font-size="6.2" letter-spacing="-0.25" fill="#fff" text-anchor="middle">122</text>
<rect x="522.10" y="540.35" width="7.05" height="110.35" fill="#ff8800"/>
<rect x="530.80" y="607.02" width="7.05" height="43.68" fill="#fde05a"/>
<text x="525.60" y="536.75" font-size="6.2" letter-spacing="-0.25" fill="#fff" text-anchor="middle">389</text>
<text x="534.30" y="603.42" font-size="6.2" letter-spacing="-0.25" fill="#fff" text-anchor="middle">154</text>
<text x="530.18" y="659.10" font-size="6" letter-spacing="-0.3" fill="#fff" text-anchor="middle">2021年12月</text>
<line x1="519.20" x2="519.20" y1="650.7" y2="653.2" stroke="#b4b8d2" stroke-width="0.8"/>
<rect x="544.05" y="565.88" width="7.05" height="84.82" fill="#ff8800"/>
<rect x="552.75" y="546.88" width="7.05" height="103.82" fill="#fde05a"/>
<text x="547.55" y="562.28" font-size="6.2" letter-spacing="-0.25" fill="#fff" text-anchor="middle">299</text>
<text x="556.25" y="543.28" font-size="6.2" letter-spacing="-0.25" fill="#fff" text-anchor="middle">366</text>
<rect x="566.00" y="575.53" width="7.05" height="75.17" fill="#ff8800"/>
<rect x="574.70" y="610.42" width="7.05" height="40.28" fill="#fde05a"/>
<text x="569.50" y="571.93" font-size="6.2" letter-spacing="-0.25" fill="#fff" text-anchor="middle">265</text>
<text x="578.20" y="606.82" font-size="6.2" letter-spacing="-0.25" fill="#fff" text-anchor="middle">142</text>
<text x="574.08" y="659.10" font-size="6" letter-spacing="-0.3" fill="#fff" text-anchor="middle">2022年02月</text>
<line x1="563.10" x2="563.10" y1="650.7" y2="653.2" stroke="#b4b8d2" stroke-width="0.8"/>
<rect x="587.95" y="605.03" width="7.05" height="45.67" fill="#ff8800"/>
<rect x="596.65" y="612.69" width="7.05" height="38.01" fill="#fde05a"/>
<text x="591.45" y="601.43" font-size="6.2" letter-spacing="-0.25" fill="#fff" text-anchor="middle">161</text>
<text x="600.15" y="609.09" font-size="6.2" letter-spacing="-0.25" fill="#fff" text-anchor="middle">134</text>
<line x1="607" x2="607" y1="650.7" y2="653.2" stroke="#b4b8d2" stroke-width="0.8"/>
<rect x="659.3" y="449.5" width="221.3" height="212.5" fill="url(#botg)"/>
<path d="M659.0 453.79999999999995 V449.4 H663.4 M876.5 449.4 H880.9 V453.79999999999995" stroke="#19c0d8" stroke-width="1" fill="none" opacity="0.85"/>
<text x="664.8" y="463.3" font-size="7.2" font-weight="bold" fill="#fff">3.3到店单量分析</text>
<line x1="695.6" x2="864.9" y1="650.70" y2="650.70" stroke="#b4b8d2" stroke-width="0.8" opacity="0.95"/>
<text x="691.3" y="652.00" font-size="6.2" letter-spacing="-0.25" fill="#fff" text-anchor="end">0</text>
<line x1="695.6" x2="864.9" y1="626.39" y2="626.39" stroke="#b4b8d2" stroke-width="0.8" opacity="0.8"/>
<text x="691.3" y="627.69" font-size="6.2" letter-spacing="-0.25" fill="#fff" text-anchor="end">3000</text>
<line x1="695.6" x2="864.9" y1="602.07" y2="602.07" stroke="#b4b8d2" stroke-width="0.8" opacity="0.8"/>
<text x="691.3" y="603.37" font-size="6.2" letter-spacing="-0.25" fill="#fff" text-anchor="end">6000</text>
<line x1="695.6" x2="864.9" y1="577.76" y2="577.76" stroke="#b4b8d2" stroke-width="0.8" opacity="0.8"/>
<text x="691.3" y="579.06" font-size="6.2" letter-spacing="-0.25" fill="#fff" text-anchor="end">9000</text>
<line x1="695.6" x2="864.9" y1="553.44" y2="553.44" stroke="#b4b8d2" stroke-width="0.8" opacity="0.8"/>
<text x="691.3" y="554.74" font-size="6.2" letter-spacing="-0.25" fill="#fff" text-anchor="end">12000</text>
<line x1="695.6" x2="864.9" y1="529.13" y2="529.13" stroke="#b4b8d2" stroke-width="0.8" opacity="0.8"/>
<text x="691.3" y="530.43" font-size="6.2" letter-spacing="-0.25" fill="#fff" text-anchor="end">15000</text>
<line x1="695.6" x2="864.9" y1="504.81" y2="504.81" stroke="#b4b8d2" stroke-width="0.8" opacity="0.8"/>
<text x="691.3" y="506.11" font-size="6.2" letter-spacing="-0.25" fill="#fff" text-anchor="end">18000</text>
<line x1="695.6" x2="864.9" y1="480.50" y2="480.50" stroke="#b4b8d2" stroke-width="0.8" opacity="0.8"/>
<text x="691.3" y="481.80" font-size="6.2" letter-spacing="-0.25" fill="#fff" text-anchor="end">21000</text>
<line x1="695.6" x2="695.6" y1="480.5" y2="653.2" stroke="#b4b8d2" stroke-width="0.8"/>
<rect x="698.50" y="500.02" width="7.05" height="150.68" fill="#ff8800"/>
<rect x="707.20" y="649.10" width="7.05" height="1.60" fill="#fde05a"/>
<text x="702.00" y="496.42" font-size="6.2" letter-spacing="-0.25" fill="#fff" text-anchor="middle">18592</text>
<text x="710.70" y="645.50" font-size="6.2" letter-spacing="-0.25" fill="#fff" text-anchor="middle">167</text>
<text x="706.18" y="659.10" font-size="6" letter-spacing="-0.3" fill="#fff" text-anchor="middle">2021年08月</text>
<line x1="695.60" x2="695.60" y1="650.7" y2="653.2" stroke="#b4b8d2" stroke-width="0.8"/>
<rect x="719.66" y="509.09" width="7.05" height="141.61" fill="#ff8800"/>
<rect x="728.36" y="649.10" width="7.05" height="1.60" fill="#fde05a"/>
<text x="723.16" y="505.49" font-size="6.2" letter-spacing="-0.25" fill="#fff" text-anchor="middle">17473</text>
<text x="731.86" y="645.50" font-size="6.2" letter-spacing="-0.25" fill="#fff" text-anchor="middle">171</text>
<rect x="740.82" y="517.68" width="7.05" height="133.02" fill="#ff8800"/>
<rect x="749.52" y="649.10" width="7.05" height="1.60" fill="#fde05a"/>
<text x="744.32" y="514.08" font-size="6.2" letter-spacing="-0.25" fill="#fff" text-anchor="middle">16412</text>
<text x="753.02" y="645.50" font-size="6.2" letter-spacing="-0.25" fill="#fff" text-anchor="middle">178</text>
<text x="748.51" y="659.10" font-size="6" letter-spacing="-0.3" fill="#fff" text-anchor="middle">2021年10月</text>
<line x1="737.92" x2="737.92" y1="650.7" y2="653.2" stroke="#b4b8d2" stroke-width="0.8"/>
<rect x="761.99" y="512.81" width="7.05" height="137.89" fill="#ff8800"/>
<rect x="770.69" y="649.10" width="7.05" height="1.60" fill="#fde05a"/>
<text x="765.49" y="509.21" font-size="6.2" letter-spacing="-0.25" fill="#fff" text-anchor="middle">17013</text>
<text x="774.19" y="645.50" font-size="6.2" letter-spacing="-0.25" fill="#fff" text-anchor="middle">181</text>
<rect x="783.15" y="491.77" width="7.05" height="158.93" fill="#ff8800"/>
<rect x="791.85" y="649.10" width="7.05" height="1.60" fill="#fde05a"/>
<text x="786.65" y="488.17" font-size="6.2" letter-spacing="-0.25" fill="#fff" text-anchor="middle">19610</text>
<text x="795.35" y="645.50" font-size="6.2" letter-spacing="-0.25" fill="#fff" text-anchor="middle">177</text>
<text x="790.83" y="659.10" font-size="6" letter-spacing="-0.3" fill="#fff" text-anchor="middle">2021年12月</text>
<line x1="780.25" x2="780.25" y1="650.7" y2="653.2" stroke="#b4b8d2" stroke-width="0.8"/>
<rect x="804.31" y="513.19" width="7.05" height="137.51" fill="#ff8800"/>
<rect x="813.01" y="649.10" width="7.05" height="1.60" fill="#fde05a"/>
<text x="807.81" y="509.59" font-size="6.2" letter-spacing="-0.25" fill="#fff" text-anchor="middle">16966</text>
<text x="816.51" y="645.50" font-size="6.2" letter-spacing="-0.25" fill="#fff" text-anchor="middle">150</text>
<rect x="825.48" y="533.72" width="7.05" height="116.98" fill="#ff8800"/>
<rect x="834.18" y="649.10" width="7.05" height="1.60" fill="#fde05a"/>
<text x="828.98" y="530.12" font-size="6.2" letter-spacing="-0.25" fill="#fff" text-anchor="middle">14434</text>
<text x="837.68" y="645.50" font-size="6.2" letter-spacing="-0.25" fill="#fff" text-anchor="middle">193</text>
<text x="833.16" y="659.10" font-size="6" letter-spacing="-0.3" fill="#fff" text-anchor="middle">2022年02月</text>
<line x1="822.58" x2="822.58" y1="650.7" y2="653.2" stroke="#b4b8d2" stroke-width="0.8"/>
<rect x="846.64" y="587.70" width="7.05" height="63.00" fill="#ff8800"/>
<rect x="855.34" y="649.10" width="7.05" height="1.60" fill="#fde05a"/>
<text x="850.14" y="584.10" font-size="6.2" letter-spacing="-0.25" fill="#fff" text-anchor="middle">7773</text>
<text x="858.84" y="645.50" font-size="6.2" letter-spacing="-0.25" fill="#fff" text-anchor="middle">182</text>
<line x1="864.9" x2="864.9" y1="650.7" y2="653.2" stroke="#b4b8d2" stroke-width="0.8"/>
<rect x="901.3" y="449.5" width="220.9" height="212.5" fill="url(#botg)"/>
<path d="M901.0 453.79999999999995 V449.4 H905.4 M1118.1 449.4 H1122.5 V453.79999999999995" stroke="#19c0d8" stroke-width="1" fill="none" opacity="0.85"/>
<text x="906.8" y="463.3" font-size="7.2" font-weight="bold" fill="#fff">3.4店内销售分析</text>
<line x1="937.4" x2="1105.8" y1="650.70" y2="650.70" stroke="#b4b8d2" stroke-width="0.8" opacity="0.95"/>
<text x="933.1" y="652.00" font-size="6.2" letter-spacing="-0.25" fill="#fff" text-anchor="end">0</text>
<line x1="937.4" x2="1105.8" y1="622.33" y2="622.33" stroke="#b4b8d2" stroke-width="0.8" opacity="0.8"/>
<text x="933.1" y="623.63" font-size="6.2" letter-spacing="-0.25" fill="#fff" text-anchor="end">5000</text>
<line x1="937.4" x2="1105.8" y1="593.97" y2="593.97" stroke="#b4b8d2" stroke-width="0.8" opacity="0.8"/>
<text x="933.1" y="595.27" font-size="6.2" letter-spacing="-0.25" fill="#fff" text-anchor="end">10000</text>
<line x1="937.4" x2="1105.8" y1="565.60" y2="565.60" stroke="#b4b8d2" stroke-width="0.8" opacity="0.8"/>
<text x="933.1" y="566.90" font-size="6.2" letter-spacing="-0.25" fill="#fff" text-anchor="end">15000</text>
<line x1="937.4" x2="1105.8" y1="537.23" y2="537.23" stroke="#b4b8d2" stroke-width="0.8" opacity="0.8"/>
<text x="933.1" y="538.53" font-size="6.2" letter-spacing="-0.25" fill="#fff" text-anchor="end">20000</text>
<line x1="937.4" x2="1105.8" y1="508.87" y2="508.87" stroke="#b4b8d2" stroke-width="0.8" opacity="0.8"/>
<text x="933.1" y="510.17" font-size="6.2" letter-spacing="-0.25" fill="#fff" text-anchor="end">25000</text>
<line x1="937.4" x2="1105.8" y1="480.50" y2="480.50" stroke="#b4b8d2" stroke-width="0.8" opacity="0.8"/>
<text x="933.1" y="481.80" font-size="6.2" letter-spacing="-0.25" fill="#fff" text-anchor="end">30000</text>
<line x1="937.4" x2="937.4" y1="480.5" y2="653.2" stroke="#b4b8d2" stroke-width="0.8"/>
<rect x="940.30" y="546.66" width="7.05" height="104.04" fill="#ff8800"/>
<rect x="949.00" y="649.10" width="7.05" height="1.60" fill="#fde05a"/>
<text x="943.80" y="543.06" font-size="6.2" letter-spacing="-0.25" fill="#fff" text-anchor="middle">18338</text>
<text x="952.50" y="645.50" font-size="6.2" letter-spacing="-0.25" fill="#fff" text-anchor="middle">120</text>
<text x="947.92" y="659.10" font-size="6" letter-spacing="-0.3" fill="#fff" text-anchor="middle">2021年08月</text>
<line x1="937.40" x2="937.40" y1="650.7" y2="653.2" stroke="#b4b8d2" stroke-width="0.8"/>
<rect x="961.35" y="555.14" width="7.05" height="95.56" fill="#ff8800"/>
<rect x="970.05" y="649.10" width="7.05" height="1.60" fill="#fde05a"/>
<text x="964.85" y="551.54" font-size="6.2" letter-spacing="-0.25" fill="#fff" text-anchor="middle">16843</text>
<text x="973.55" y="645.50" font-size="6.2" letter-spacing="-0.25" fill="#fff" text-anchor="middle">126</text>
<rect x="982.40" y="552.93" width="7.05" height="97.77" fill="#ff8800"/>
<rect x="991.10" y="649.10" width="7.05" height="1.60" fill="#fde05a"/>
<text x="985.90" y="549.33" font-size="6.2" letter-spacing="-0.25" fill="#fff" text-anchor="middle">17234</text>
<text x="994.60" y="645.50" font-size="6.2" letter-spacing="-0.25" fill="#fff" text-anchor="middle">125</text>
<text x="990.02" y="659.10" font-size="6" letter-spacing="-0.3" fill="#fff" text-anchor="middle">2021年10月</text>
<line x1="979.50" x2="979.50" y1="650.7" y2="653.2" stroke="#b4b8d2" stroke-width="0.8"/>
<rect x="1003.45" y="548.51" width="7.05" height="102.19" fill="#ff8800"/>
<rect x="1012.15" y="649.10" width="7.05" height="1.60" fill="#fde05a"/>
<text x="1006.95" y="544.91" font-size="6.2" letter-spacing="-0.25" fill="#fff" text-anchor="middle">18012</text>
<text x="1015.65" y="645.50" font-size="6.2" letter-spacing="-0.25" fill="#fff" text-anchor="middle">126</text>
<rect x="1024.50" y="496.15" width="7.05" height="154.55" fill="#ff8800"/>
<rect x="1033.20" y="649.10" width="7.05" height="1.60" fill="#fde05a"/>
<text x="1028.00" y="492.55" font-size="6.2" letter-spacing="-0.25" fill="#fff" text-anchor="middle">27242</text>
<text x="1036.70" y="645.50" font-size="6.2" letter-spacing="-0.25" fill="#fff" text-anchor="middle">111</text>
<text x="1032.12" y="659.10" font-size="6" letter-spacing="-0.3" fill="#fff" text-anchor="middle">2021年12月</text>
<line x1="1021.60" x2="1021.60" y1="650.7" y2="653.2" stroke="#b4b8d2" stroke-width="0.8"/>
<rect x="1045.55" y="563.62" width="7.05" height="87.08" fill="#ff8800"/>
<rect x="1054.25" y="649.10" width="7.05" height="1.60" fill="#fde05a"/>
<text x="1049.05" y="560.02" font-size="6.2" letter-spacing="-0.25" fill="#fff" text-anchor="middle">15349</text>
<text x="1057.75" y="645.50" font-size="6.2" letter-spacing="-0.25" fill="#fff" text-anchor="middle">120</text>
<rect x="1066.60" y="565.69" width="7.05" height="85.01" fill="#ff8800"/>
<rect x="1075.30" y="649.10" width="7.05" height="1.60" fill="#fde05a"/>
<text x="1070.10" y="562.09" font-size="6.2" letter-spacing="-0.25" fill="#fff" text-anchor="middle">14985</text>
<text x="1078.80" y="645.50" font-size="6.2" letter-spacing="-0.25" fill="#fff" text-anchor="middle">122</text>
<text x="1074.23" y="659.10" font-size="6" letter-spacing="-0.3" fill="#fff" text-anchor="middle">2022年02月</text>
<line x1="1063.70" x2="1063.70" y1="650.7" y2="653.2" stroke="#b4b8d2" stroke-width="0.8"/>
<rect x="1087.65" y="605.18" width="7.05" height="45.52" fill="#ff8800"/>
<rect x="1096.35" y="649.10" width="7.05" height="1.60" fill="#fde05a"/>
<text x="1091.15" y="601.58" font-size="6.2" letter-spacing="-0.25" fill="#fff" text-anchor="middle">8023</text>
<text x="1099.85" y="645.50" font-size="6.2" letter-spacing="-0.25" fill="#fff" text-anchor="middle">122</text>
<line x1="1105.8" x2="1105.8" y1="650.7" y2="653.2" stroke="#b4b8d2" stroke-width="0.8"/>
<defs><linearGradient id="dl" x1="0" x2="1"><stop offset="0" stop-color="#8a9ad0" stop-opacity="0"/><stop offset="0.5" stop-color="#8a9ad0" stop-opacity="0.25"/><stop offset="1" stop-color="#9aa8dc" stop-opacity="0.6"/></linearGradient></defs><path d="M900 470 C 980 472, 1060 484, 1132 499.5" stroke="url(#dl)" stroke-width="0.9" fill="none"/>
<text x="979" y="621.8" font-size="11.3" fill="#9098b8" opacity="0.62">激活 Windows</text>
<text x="979" y="633.8" font-size="8.2" fill="#9098b8" opacity="0.62">转到"设置"以激活 Windows。</text>
</svg>
<div class="abs logo" style="left:33px;top:27.2px;font-size:5.4px;letter-spacing:0px;">1000kx.com</div>
<div class="abs logo" style="left:31.5px;top:32.5px;font-size:27px;letter-spacing:-0.8px;">1000K</div>
<div class="abs logo" style="left:98.2px;top:19.8px;font-size:28.5px;font-weight:bold;">X</div>
<div class="abs logo" style="left:23.5px;top:59.5px;font-size:25.5px;letter-spacing:0.8px;">千米<span style="font-size:20px;letter-spacing:0.2px;font-weight:500;position:relative;top:-1.5px;left:2px">快修</span></div>
<div class="line" style="left:347px;width:150px;"></div>
<div class="line" style="left:755.5px;width:150px;"></div>
<div class="abs title">智能体系</div>
<div class="abs sub">Intelligent system</div>
<div class="badge"><span class="b1">SAAS</span><span class="b2">智能管理系统</span></div>
<div class="abs url"><i class="w"><b>w</b></i><i class="w"><b>w</b></i><i class="w"><b>w</b></i><i class="d"><b>.</b></i><i><b>1</b></i><i><b>0</b></i><i><b>0</b></i><i><b>0</b></i><i><b>K</b></i><i><b>X</b></i><i class="d"><b>.</b></i><i><b>c</b></i><i><b>o</b></i><i class="m"><b>m</b></i></div>
</body></html>
